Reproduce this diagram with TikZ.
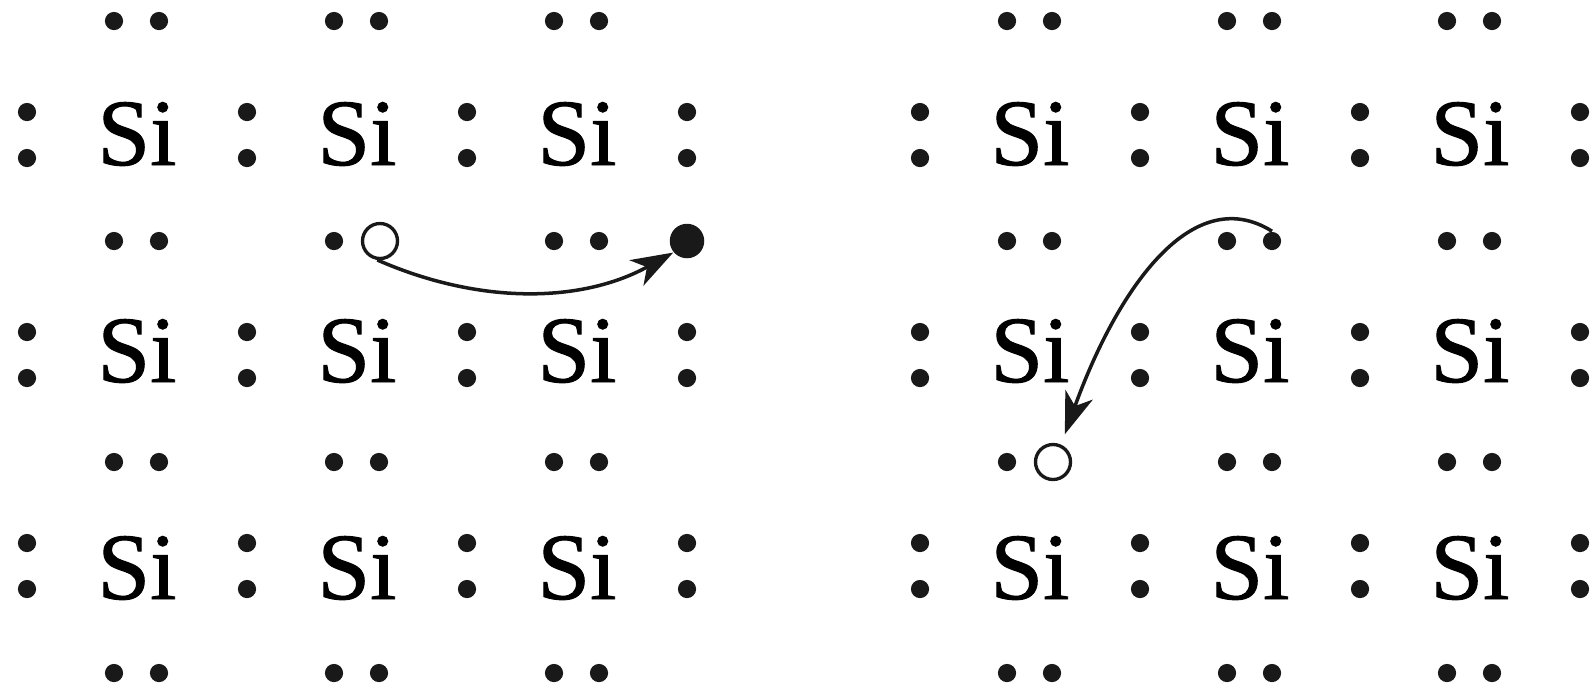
\documentclass[tikz,border=0pt]{standalone}
\usepackage{fontspec}
\setmainfont[FakeBold=1]{Liberation Serif}
\usetikzlibrary{arrows.meta}
\tikzset{
  atom/.style={inner sep=0pt,font=\fontsize{27}{27}\selectfont,anchor=base},
  electron/.style={circle,fill=black!90,inner sep=0pt,minimum size=0.182cm},
  hole/.style={circle,draw=black!90,fill=white,line width=0.95pt,inner sep=0pt,minimum size=0.35cm},
  bigelectron/.style={circle,fill=black!90,inner sep=0pt,minimum size=0.345cm},
  jump/.style={line width=1pt,draw=black!90,-{Stealth[length=4.2mm,width=2.9mm,inset=1.2mm]}}
}
\begin{document}
\begin{tikzpicture}
  \useasboundingbox (0,0) rectangle (15.9,-6.86);
  \foreach \p/\dx in {L/0,R/8.93} {
    % horizontal pairs
    \foreach \r/\y in {0/-0.21,1/-2.41,2/-4.62,3/-6.73}
      \foreach \c in {0,1,2} {
        \node[electron] (e\p\r\c a) at ({\dx+1.14+2.2*\c},\y) {};
        \node[electron] (e\p\r\c b) at ({\dx+1.59+2.2*\c},\y) {};
      }
    % atoms and vertical pairs
    \foreach \r/\yt/\yb/\ybase in {0/-1.12/-1.58/-1.65,1/-3.32/-3.78/-3.82,2/-5.43/-5.89/-5.99} {
      \foreach \c in {0,1,2}
        \node[atom] (si\p\r\c) at ({\dx+1.37+2.2*\c},\ybase) {Si};
      \foreach \c in {0,1,2,3} {
        \node[electron] (v\p\r\c a) at ({\dx+0.27+2.2*\c},\yt) {};
        \node[electron] (v\p\r\c b) at ({\dx+0.27+2.2*\c},\yb) {};
      }
    }
  }
  % left panel
  \node[hole] (holeL) at (3.80,-2.41) {};
  \node[bigelectron] (freeL) at (6.87,-2.41) {};
  \draw[jump] (holeL.262) .. controls (4.80,-3.05) and (5.82,-3.03) .. (freeL.220);
  % right panel
  \node[hole] (holeR) at (10.53,-4.62) {};
  \draw[jump,shorten >=0.11cm] (eR11b.north) .. controls (11.90,-1.80) and (11.15,-2.95) .. (holeR.65);
\end{tikzpicture}
\end{document}
